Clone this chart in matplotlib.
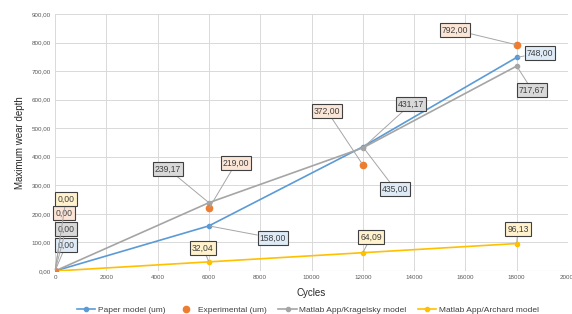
import matplotlib
matplotlib.use('Agg')
import matplotlib.pyplot as plt
from matplotlib.ticker import FuncFormatter, MultipleLocator

plt.rcParams['font.family'] = ['Liberation Sans', 'DejaVu Sans']

cycles = [0, 6000, 12000, 18000]
paper = [0.0, 158.0, 435.0, 748.0]
experimental = [0.0, 219.0, 372.0, 792.0]
kragelsky = [0.0, 239.17, 431.17, 717.67]
archard = [0.0, 32.04, 64.09, 96.13]

series_names = ['Paper model (um)', 'Experimental (um)',
                'Matlab App/Kragelsky model', 'Matlab App/Archard model']
colors = ['#5B9BD5', '#ED7D31', '#A5A5A5', '#FFC000']
box_colors = ['#DEEBF7', '#FBE5D6', '#D9D9D9', '#FFF2CC']

# label box centres in figure pixels (x, y from top) for each series / point
label_pos = [
    [(66, 245), (273, 238), (395, 189), (540, 53)],
    [(64, 213), (236, 163), (327, 111), (455, 30)],
    [(66, 229), (168, 169), (411, 104), (532, 90)],
    [(66, 199), (203, 248), (371, 237), (518, 229)],
]

W, H = 572, 314
fig = plt.figure(figsize=(W / 100, H / 100), dpi=100)
ax = fig.add_axes([55 / W, 1 - 271 / H, 513 / W, 257 / H])

ax.plot(cycles, paper, '-o', color=colors[0], lw=1.2, ms=3, label=series_names[0], zorder=3)
ax.plot(cycles, experimental, 'o', color=colors[1], ms=4.5, label=series_names[1], zorder=4)
ax.plot(cycles, kragelsky, '-o', color=colors[2], lw=1.2, ms=3, label=series_names[2], zorder=3)
ax.plot(cycles, archard, '-o', color=colors[3], lw=1.2, ms=3, label=series_names[3], zorder=3)

ax.set_xlim(0, 20000)
ax.set_ylim(0, 900)
ax.xaxis.set_major_locator(MultipleLocator(2000))
ax.yaxis.set_major_locator(MultipleLocator(100))
ax.yaxis.set_major_formatter(FuncFormatter(lambda v, p: ('%.2f' % v).replace('.', ',')))
ax.tick_params(labelsize=4.5, colors='#595959', length=0, pad=3)
ax.grid(True, color='#D9D9D9', lw=0.7)
ax.set_axisbelow(True)
for s in ax.spines.values():
    s.set_visible(False)
ax.axhline(0, color='#D9D9D9', lw=0.8, zorder=1)

ax.set_xlabel('Cycles', fontsize=7, color='#262626', labelpad=6)
ax.set_ylabel('Maximum wear depth', fontsize=7, color='#262626')
ax.yaxis.set_label_coords(-30 / 513, 0.5)

all_series = [paper, experimental, kragelsky, archard]
for i, vals in enumerate(all_series):
    for j, v in enumerate(vals):
        px, py = label_pos[i][j]
        ax.annotate(('%.2f' % v).replace('.', ','), xy=(cycles[j], v),
                    xytext=(px, H - py), textcoords='figure pixels',
                    ha='center', va='center', fontsize=6.2, color='#404040',
                    bbox=dict(boxstyle='square,pad=0.25', fc=box_colors[i],
                              ec='#404040', lw=0.8),
                    arrowprops=dict(arrowstyle='-', color='#A6A6A6', lw=0.7,
                                    shrinkA=0, shrinkB=1),
                    zorder=5)

fig.legend(*ax.get_legend_handles_labels(), loc='center',
           bbox_to_anchor=(308 / W, 1 - 310 / H), ncol=4, frameon=False,
           fontsize=6, handlelength=2.2, columnspacing=1.4, handletextpad=0.3,
           labelcolor='#404040', borderpad=0, borderaxespad=0)

fig.savefig('out.png', dpi=100)
